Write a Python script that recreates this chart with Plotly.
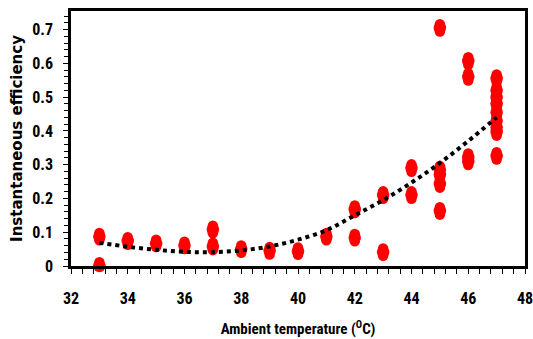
import plotly.graph_objects as go

temp = [33, 33, 34, 35, 36, 37, 37, 38, 39, 40, 41, 42, 42, 43, 43, 44, 44,
        45, 45, 45, 45, 45, 46, 46, 46, 46,
        47, 47, 47, 47, 47, 47, 47, 47, 47]
efficiency = [0.087, 0.0, 0.074, 0.067, 0.061, 0.108, 0.058, 0.05, 0.045, 0.044,
              0.087, 0.168, 0.084, 0.21, 0.041, 0.29, 0.21,
              0.705, 0.285, 0.27, 0.243, 0.163, 0.607, 0.56, 0.322, 0.31,
              0.556, 0.52, 0.50, 0.48, 0.455, 0.43, 0.41, 0.397, 0.326]

# polynomial trend line
trend_x = [33, 34, 35, 36, 37, 38, 39, 40, 41, 42, 43, 44, 45, 46, 47]
trend_y = [0.069, 0.057, 0.048, 0.042, 0.041, 0.046, 0.058, 0.078, 0.106,
           0.15, 0.195, 0.247, 0.305, 0.37, 0.44]

x_ticks = [32, 34, 36, 38, 40, 42, 44, 46, 48]
y_ticks = [0, 0.1, 0.2, 0.3, 0.4, 0.5, 0.6, 0.7]

narrow = "Liberation Sans Narrow, Arial Narrow, Roboto Condensed, sans-serif"
RED = "#ff0000"
ELL = 0.011  # vertical stretch of the marker (style), in axis units

fig = go.Figure()
# elongated (elliptical-looking) markers: upper and lower caps + main circle
for dy, sz in ((ELL, 10.5), (-ELL, 10.5)):
    fig.add_trace(go.Scatter(
        x=temp, y=[v + dy for v in efficiency], mode="markers",
        marker=dict(color=RED, size=sz, symbol="circle", line=dict(width=0)),
        showlegend=False, cliponaxis=False, hoverinfo="skip"))
fig.add_trace(go.Scatter(
    x=temp, y=efficiency, mode="markers",
    marker=dict(color=RED, size=12.5, symbol="circle", line=dict(width=0)),
    showlegend=False, cliponaxis=False))
fig.add_trace(go.Scatter(
    x=trend_x, y=trend_y, mode="lines",
    line=dict(color="black", width=4, dash="dot", shape="spline"),
    showlegend=False))

fig.update_layout(
    width=533, height=339,
    margin=dict(l=71, r=8, t=11, b=73),
    paper_bgcolor="white", plot_bgcolor="white",
    xaxis=dict(
        range=[32, 48], tickvals=x_ticks, ticktext=[str(v) for v in x_ticks],
        showgrid=False, zeroline=False, automargin=False,
        ticklabeloverflow="allow",
        showline=True, linecolor="black", linewidth=2.5, mirror=True,
        ticks="outside", ticklen=5, tickwidth=1.2, tickcolor="black",
        minor=dict(dtick=0.4, tick0=32, ticks="outside", ticklen=5,
                   tickwidth=1.2, tickcolor="black", showgrid=False),
        tickfont=dict(family=narrow, size=16, color="black", weight="bold"),
        ticklabelstandoff=11,
        title=dict(text="Ambient temperature (<sup>O</sup>C)",
                   font=dict(family=narrow, size=15, color="black", weight="bold"),
                   standoff=17),
    ),
    yaxis=dict(
        range=[0, 0.755], tickvals=y_ticks, ticktext=["0", "0.1", "0.2", "0.3", "0.4", "0.5", "0.6", "0.7"],
        showgrid=False, zeroline=False, automargin=False,
        ticklabeloverflow="allow",
        showline=True, linecolor="black", linewidth=2.5, mirror=True,
        ticks="outside", ticklen=5, tickwidth=1.2, tickcolor="black",
        minor=dict(dtick=0.02, tick0=0, ticks="outside", ticklen=4,
                   tickwidth=1.2, tickcolor="black", showgrid=False),
        tickfont=dict(family=narrow, size=16, color="black", weight="bold"),
        ticklabelstandoff=7,
        title=dict(text="Instantaneous efficiency",
                   font=dict(family="DejaVu Sans", size=15, color="black", weight="bold"),
                   standoff=6),
    ),
)

fig.write_html("out.html")
